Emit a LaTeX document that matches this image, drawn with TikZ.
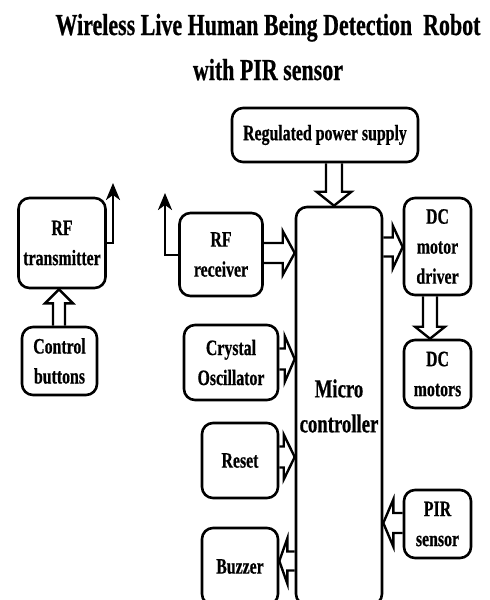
\documentclass[tikz,border=0pt]{standalone}
\usepackage{fontspec}
\setmainfont{Liberation Serif}[FakeStretch=0.72, BoldFeatures={FakeBold=0.6}]
\usetikzlibrary{calc,arrows.meta}

\tikzset{
  box/.style={draw, line width=2.6pt, rounded corners=11pt, align=center,
    inner sep=0pt, font=\fontsize{22}{30}\selectfont\bfseries},
  hollow/.style={draw, line width=2.4pt, line join=miter},
  antenna/.style={draw, line width=2.6pt, -{Stealth[length=17pt,width=14pt,inset=5pt]}},
  heading/.style={font=\fontsize{30.5}{31}\selectfont\bfseries, anchor=base, inner sep=0pt}
}

% hollow block arrow: tail, tip, shaft half-width, head half-width, head length (pt)
\newcommand\blockarrow[5]{%
  \coordinate (ba-t) at (#1);
  \coordinate (ba-p) at (#2);
  \coordinate (ba-h) at ($(ba-p)!#5pt!(ba-t)$);
  \draw[hollow] ($(ba-t)!#3pt!90:(ba-p)$) -- ($(ba-h)!#3pt!90:(ba-p)$)
    -- ($(ba-h)!#4pt!90:(ba-p)$) -- (ba-p) -- ($(ba-h)!#4pt!-90:(ba-p)$)
    -- ($(ba-h)!#3pt!-90:(ba-p)$) -- ($(ba-t)!#3pt!-90:(ba-p)$);
}

\begin{document}
\begin{tikzpicture}[x=1pt,y=-1pt]
\useasboundingbox (0,0) rectangle (490,600);

% heading
\node[heading] (t1) at (268,35) {Wireless Live Human Being Detection\ \ Robot};
\node[heading] (t2) at (268,80) {with PIR sensor};

% blocks
\node[box, minimum width=186pt, minimum height=54pt] (ps) at (325,135) {Regulated power supply};
\node[box, font=\fontsize{26}{35}\selectfont\bfseries, minimum width=86pt, minimum height=398pt] (mc) at (339,406) {Micro\\controller};
\node[box, minimum width=67pt, minimum height=97pt] (drv) at (437.5,246.5) {DC\\motor\\driver};
\node[box, minimum width=67pt, minimum height=68pt] (mot) at (437.5,374) {DC\\motors};
\node[box, minimum width=87pt, minimum height=90pt] (tx) at (62,243) {RF\\transmitter};
\node[box, minimum width=75pt, minimum height=68pt] (btn) at (59.5,361) {Control\\buttons};
\node[box, minimum width=83pt, minimum height=83pt] (rx) at (221,254.5) {RF\\receiver};
\node[box, minimum width=94pt, minimum height=75pt] (osc) at (231,362.5) {Crystal\\Oscillator};
\node[box, minimum width=76pt, minimum height=75pt] (rst) at (240,460.5) {Reset};
\node[box, minimum width=76pt, minimum height=77pt] (bz) at (240,566.5) {Buzzer};
\node[box, minimum width=67pt, minimum height=68pt] (pir) at (437.5,524) {PIR\\sensor};

% block arrows
\blockarrow{ps.south -| 334,0}{mc.north -| 334,0}{8}{17.5}{14}
\blockarrow{rx.east |- 0,253}{mc.west |- 0,253}{10}{22}{12}
\blockarrow{osc.east |- 0,359}{mc.west |- 0,359}{10.5}{23}{10}
\blockarrow{rst.east |- 0,457}{mc.west |- 0,457}{10.5}{22.5}{11}
\blockarrow{mc.east |- 0,247}{drv.west |- 0,247}{9.5}{21.5}{10}
\blockarrow{drv.south -| 430,0}{mot.north -| 430,0}{7}{15}{12}
\blockarrow{btn.north -| 59,0}{tx.south -| 59,0}{6}{14}{14}
\blockarrow{pir.west |- 0,523}{mc.east |- 0,523}{10}{23.5}{10}
\blockarrow{mc.west |- 0,561}{bz.east |- 0,561}{9.5}{22.5}{8}

% antennas
\coordinate (txant) at (113,183);
\draw[antenna] (tx.east |- 0,243) -| (txant);
\coordinate (rxant) at (165,193);
\draw[antenna] (rx.west |- 0,255) -| (rxant);
\end{tikzpicture}
\end{document}
